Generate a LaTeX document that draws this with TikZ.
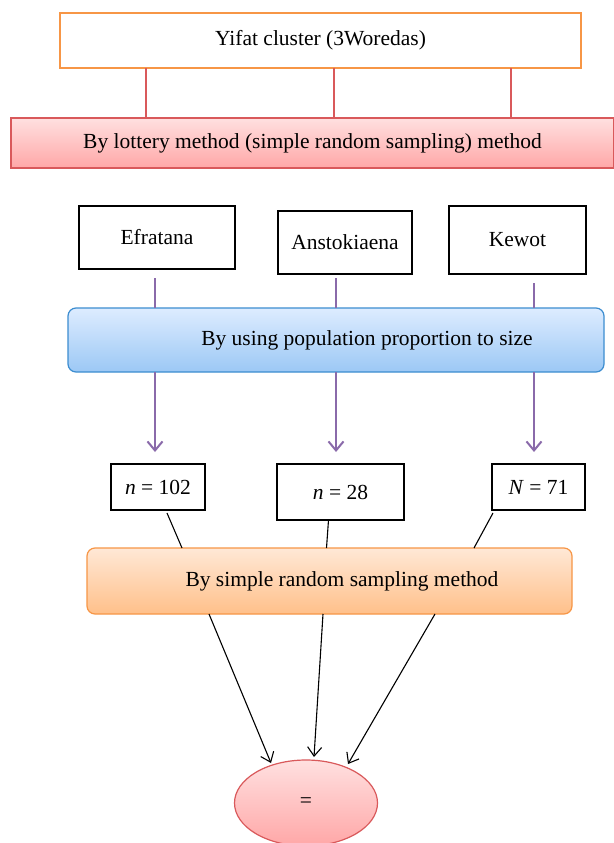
\documentclass[tikz,border=0pt]{standalone}
\usepackage{fontspec}
\setmainfont{Liberation Serif}
\usetikzlibrary{shapes.geometric,arrows.meta}
\definecolor{orgline}{HTML}{F79646}
\definecolor{redline}{HTML}{D9595B}
\definecolor{redtop}{HTML}{FFE0E0}
\definecolor{redbot}{HTML}{FFA7A7}
\definecolor{bluetop}{HTML}{DDECFF}
\definecolor{bluebot}{HTML}{9CC8F5}
\definecolor{blueline}{HTML}{3C8DD0}
\definecolor{orgtop}{HTML}{FFE8D6}
\definecolor{orgbot}{HTML}{FFC08A}
\definecolor{purp}{HTML}{8A6AAA}
\tikzset{
  every node/.style={font=\fontsize{21.5}{25}\selectfont, inner sep=0pt, outer sep=0pt},
  whitebox/.style={draw=orgline, fill=white, line width=1.2pt},
  redbox/.style={draw=redline, top color=redtop, bottom color=redbot, line width=1.2pt},
  bluebox/.style={draw=blueline, top color=bluetop, bottom color=bluebot, line width=1.2pt, rounded corners=8pt},
  orgbox/.style={draw=orgline, top color=orgtop, bottom color=orgbot, line width=1.2pt, rounded corners=8pt},
  blackbox/.style={draw=black, fill=white, line width=1.3pt},
  ellnode/.style={ellipse, draw=redline, top color=redtop, bottom color=redbot, line width=1.2pt},
  redconn/.style={draw=redline, line width=1.3pt},
  pline/.style={draw=purp, line width=2pt},
  parr/.style={draw=purp, line width=2pt, -{Straight Barb[length=9pt,width=15pt,line width=2pt]}},
  bline/.style={draw=black, line width=1.1pt},
  barr/.style={draw=black, line width=1.1pt, -{Straight Barb[length=9pt,width=14pt,line width=1.1pt]}}
}
\begin{document}
\begin{tikzpicture}[x=1pt,y=-1pt]
\useasboundingbox (0,0) rectangle (613,843);
\fill[white] (0,0) rectangle (613,843);

\node[whitebox, minimum width=521pt, minimum height=55pt] (top) at (320.5,40.5) {Yifat cluster (3Woredas)};
\node[redbox, minimum width=603pt, minimum height=50pt] (lot) at (312.5,143) {By lottery method (simple random sampling) method};

\draw[redconn] ([xshift=-174.5pt]top.south) -- ([xshift=-174.5pt]top.south |- lot.north);
\draw[redconn] ([xshift=13.5pt]top.south) -- ([xshift=13.5pt]top.south |- lot.north);
\draw[redconn] ([xshift=190.5pt]top.south) -- ([xshift=190.5pt]top.south |- lot.north);

\node[blackbox, minimum width=156pt, minimum height=63pt] (ef) at (157,237.5) {Efratana};
\node[blackbox, minimum width=134pt, minimum height=63pt] (an) at (345,242.5) {Anstokiaena};
\node[blackbox, minimum width=137pt, minimum height=68pt] (ke) at (517.5,240) {Kewot};

\node[bluebox, minimum width=536pt, minimum height=64pt] (bl) at (336,340) {\hspace*{62pt}By using population proportion to size};

\node[blackbox, minimum width=94pt, minimum height=46pt] (n1) at (158,487) {\textit{n} = 102};
\node[blackbox, minimum width=127pt, minimum height=56pt] (n2) at (340.5,492) {\textit{n} = 28};
\node[blackbox, minimum width=93pt, minimum height=46pt] (n3) at (538.5,487) {\textit{N} = 71};

\draw[pline, shorten <=9pt] ([xshift=-2pt]ef.south) -- ([xshift=-2pt]ef.south |- bl.north);
\draw[pline, shorten <=4pt] ([xshift=-9pt]an.south) -- ([xshift=-9pt]an.south |- bl.north);
\draw[pline, shorten <=9pt] ([xshift=16.5pt]ke.south) -- ([xshift=16.5pt]ke.south |- bl.north);

\draw[parr, shorten >=12pt] ([xshift=-2pt]ef.south |- bl.south) -- ([xshift=-2pt]ef.south |- n1.north);
\draw[parr, shorten >=12pt] ([xshift=-9pt]an.south |- bl.south) -- ([xshift=-9pt]an.south |- n2.north);
\draw[parr, shorten >=12pt] ([xshift=16.5pt]ke.south |- bl.south) -- ([xshift=16.5pt]ke.south |- n3.north);

\node[orgbox, minimum width=485pt, minimum height=66pt] (or) at (329.5,581) {\hspace*{25pt}By simple random sampling method};

\draw[bline] ([xshift=9pt,yshift=-3pt]n1.south) -- ([xshift=-147.5pt]or.north);
\draw[bline] ([xshift=-12pt]n2.south) -- ([xshift=-3pt]or.north);
\draw[bline] ([xshift=-45.5pt,yshift=-3pt]n3.south) -- ([xshift=144.5pt]or.north);

\node[ellnode, minimum width=143pt, minimum height=86pt] (ell) at (306,803) {=};

\draw[barr] ([xshift=-120.5pt]or.south) -- ([xshift=-35pt,yshift=40pt]ell.center);
\draw[barr] ([xshift=-6.5pt]or.south) -- ([xshift=8pt,yshift=46pt]ell.center);
\draw[barr] ([xshift=105.5pt]or.south) -- ([xshift=42pt,yshift=39pt]ell.center);
\end{tikzpicture}
\end{document}
